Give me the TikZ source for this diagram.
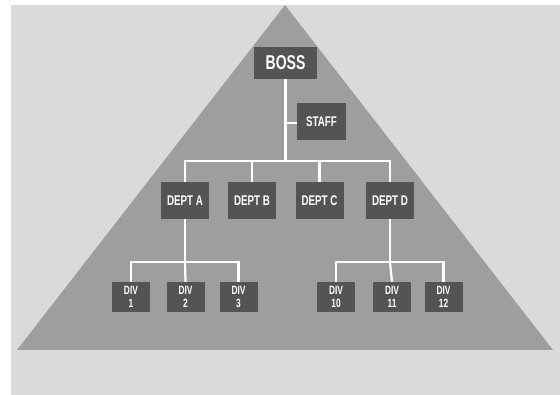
\documentclass[tikz,border=0pt]{standalone}
\usepackage{fontspec}
\usepackage{xcolor}
\usepackage{tikz}
\usetikzlibrary{positioning}

\newfontfamily\orgfont[FakeStretch=0.7]{Liberation Sans}
\definecolor{paper}{HTML}{DADADA}
\definecolor{pyramid}{HTML}{9E9E9E}
\definecolor{boxgray}{HTML}{545454}

\begin{document}
\begin{tikzpicture}[x=1pt, y=-1pt,
    box/.style={fill=boxgray, text=white, inner sep=0pt, align=center,
        font=\orgfont\bfseries\fontsize{14}{15}\selectfont,
        minimum width=48pt, minimum height=37pt},
    divbox/.style={box, minimum width=38pt, minimum height=30pt,
        font=\orgfont\bfseries\fontsize{12}{12.5}\selectfont},
    link/.style={draw=white, line width=2.2pt}]
    % Nền và kim tự tháp
    \useasboundingbox (0,0) rectangle (560,395);
    \fill[white] (0,0) rectangle (560,395);
    \fill[paper] (11,5) rectangle (560,395);
    \fill[pyramid] (17,350) -- (285,5) -- (553,350) -- cycle;

    % Các ô
    \node[box, minimum width=63pt, minimum height=32pt,
        font=\orgfont\bfseries\fontsize{20}{21}\selectfont] (boss) at (285.5,63) {BOSS};
    \node[box, minimum width=49pt, font=\orgfont\bfseries\fontsize{14}{15}\selectfont]
        (staff) at (321.5,121.5) {STAFF};
    \node[box] (depta) at (185,200.5) {DEPT A};
    \node[box] (deptb) at (252,200.5) {DEPT B};
    \node[box] (deptc) at (319.5,200.5) {DEPT C};
    \node[box] (deptd) at (390,200.5) {DEPT D};
    \foreach \n/\x in {1/131, 2/185.5, 3/238.5, 10/336, 11/392, 12/443.5} {
        \node[divbox] (div\n) at (\x,297) {DIV\\\n};
    }

    % Đường nối
    \coordinate (trunk) at (285.5,161);
    \draw[link] (boss.south) -- (trunk);
    \draw[link] (staff.west |- 0,123) -- (boss.south |- 0,123);
    \draw[link] (depta.north) |- (trunk) -| (deptd.north);
    \draw[link] (deptb.north) -- (deptb.north |- trunk);
    \draw[link] (deptc.north) -- (deptc.north |- trunk);

    \coordinate (splita) at (185,262);
    \coordinate (splitd) at (390,262);
    \draw[link] (depta.south) -- (splita);
    \draw[link] (div1.north) |- (splita) -| (div3.north);
    \draw[link] (div2.north) -- (splita);
    \draw[link] (deptd.south) -- (splitd);
    \draw[link] (div10.north) |- (splitd) -| (div12.north);
    \draw[link] (div11.north) -- (splitd);
\end{tikzpicture}
\end{document}
